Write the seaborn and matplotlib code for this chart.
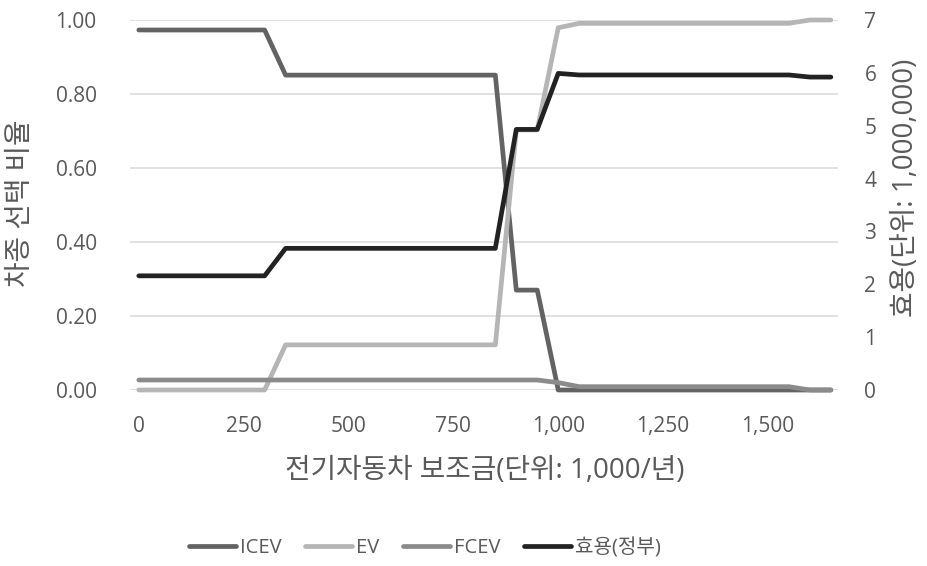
import matplotlib
matplotlib.use("Agg")
import matplotlib.pyplot as plt
import seaborn as sns
import pandas as pd

# 전기자동차 보조금 수준별 차종 선택 비율과 정부 효용
subsidy = list(range(0, 1700, 50))

icev = [0.973] * 7 + [0.851] * 11 + [0.270] * 2 + [0.0] * 14
ev = [0.0] * 7 + [0.122] * 11 + [0.703] * 2 + [0.979] + [0.991] * 11 + [1.0] * 2
fcev = [0.027] * 20 + [0.020] + [0.009] * 11 + [0.0] * 2
utility = [2.16] * 7 + [2.68] * 11 + [4.93] * 2 + [5.99] + [5.96] * 11 + [5.92] * 2

series_names = ["ICEV", "EV", "FCEV"]
utility_name = "효용(정부)"
x_ticks = [0, 250, 500, 750, 1000, 1250, 1500]
left_ticks = [0.0, 0.2, 0.4, 0.6, 0.8, 1.0]
right_ticks = list(range(0, 8))

share = pd.DataFrame({
    "subsidy": subsidy * 3,
    "share": icev + ev + fcev,
    "type": [n for n in series_names for _ in subsidy],
})
util = pd.DataFrame({"subsidy": subsidy, "utility": utility})

sns.set_theme(style="white")
plt.rcParams["font.family"] = ["Open Sans", "Noto Sans CJK KR", "DejaVu Sans"]

TEXT = "#595959"
GRID = "#d9d9d9"
palette = {"ICEV": "#636363", "EV": "#b5b5b5", "FCEV": "#8b8b8b"}
LW = 3.4

fig = plt.figure(figsize=(9.27, 5.66), dpi=100)
ax = fig.add_axes([130 / 927, 1 - 390 / 566, (838 - 130) / 927, (390 - 20) / 566])

sns.lineplot(data=share, x="subsidy", y="share", hue="type", palette=palette,
             hue_order=series_names, linewidth=LW, ax=ax, legend=False,
             solid_capstyle="round", solid_joinstyle="round", clip_on=False, zorder=3)

ax2 = ax.twinx()
sns.lineplot(data=util, x="subsidy", y="utility", color="#222222", linewidth=LW,
             ax=ax2, legend=False, solid_capstyle="round", solid_joinstyle="round",
             clip_on=False, zorder=3)

ax.set_xlim(-21, 1667)
ax.set_ylim(0, 1.0)
ax2.set_ylim(0, 7)
ax.set_xticks(x_ticks)
ax.set_xticklabels([f"{v:,}" for v in x_ticks])
ax.set_yticks(left_ticks)
ax.set_yticklabels([f"{v:.2f}" for v in left_ticks])
ax2.set_yticks(right_ticks)
ax2.set_yticklabels([str(v) for v in right_ticks])

ax.grid(axis="y", color=GRID, linewidth=1.1, zorder=0)
ax.set_axisbelow(True)
for a in (ax, ax2):
    for s in a.spines.values():
        s.set_visible(False)
    a.set_xlabel("")
    a.set_ylabel("")

ax.tick_params(axis="y", length=0, pad=24, labelsize=15, labelcolor=TEXT)
ax.tick_params(axis="x", length=0, pad=19, labelsize=15, labelcolor=TEXT)
ax2.tick_params(axis="y", length=0, pad=19, labelsize=15, labelcolor=TEXT)

fig.text(485 / 927, 1 - 471 / 566, "전기자동차 보조금(단위: 1,000/년)",
         ha="center", va="center", fontsize=20, color=TEXT)
fig.text(21 / 927, 1 - 203 / 566, "차종 선택 비율", rotation=90,
         ha="center", va="center", fontsize=20, color=TEXT)
fig.text(906 / 927, 1 - 188 / 566, "효용(단위: 1,000,000)", rotation=90,
         ha="center", va="center", fontsize=20, color=TEXT)

handles = [plt.Line2D([], [], color=palette[n], linewidth=LW, solid_capstyle="round")
           for n in series_names]
handles.append(plt.Line2D([], [], color="#222222", linewidth=LW, solid_capstyle="round"))
fig.legend(handles, series_names + [utility_name], loc="center",
           bbox_to_anchor=(425 / 927, 1 - 548 / 566), ncol=4, frameon=False,
           fontsize=14.5, labelcolor=TEXT, handlelength=2.35, handletextpad=0.2,
           columnspacing=1.15)

fig.savefig("out.png", dpi=100)
